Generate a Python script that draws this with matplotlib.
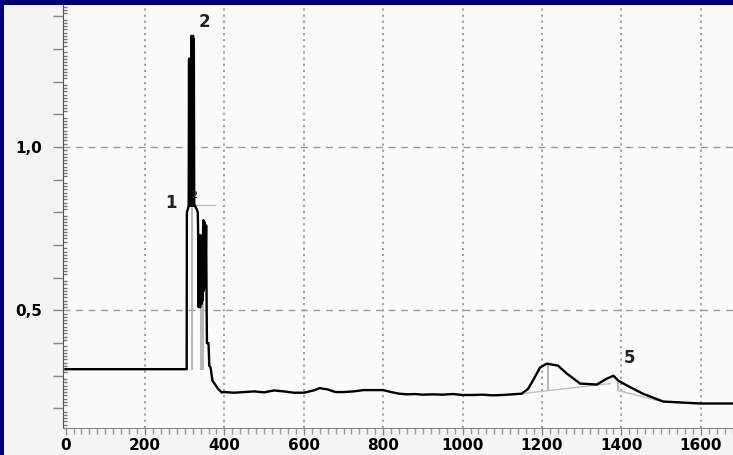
import matplotlib
matplotlib.use('Agg')
import matplotlib.pyplot as plt
from matplotlib.ticker import MultipleLocator, FixedLocator, FuncFormatter
from matplotlib.patches import Rectangle

# trace (x, signal)
trace_x = [0, 100, 200, 300, 305, 305.5, 308, 310,
           311, 312, 313, 314, 315, 316,
           317, 318, 319, 320, 321, 322, 323, 324,
           326, 330, 333, 334,
           335, 336, 337, 338, 339, 340, 341, 342, 343, 344, 345, 346,
           347, 348, 350, 352, 354, 355,
           356, 360, 362, 365, 370, 384, 393,
           400, 425, 450, 475, 500, 525, 550, 575, 600, 625, 640, 660, 680,
           700, 725, 750, 775, 800, 820, 840, 860, 880, 900, 925, 950, 975,
           1000, 1025, 1050, 1075, 1100, 1125, 1149, 1165, 1177, 1195, 1212,
           1240, 1262, 1296, 1338, 1363, 1380, 1392, 1414, 1454, 1505, 1598, 1690]
trace_y = [0.32, 0.32, 0.32, 0.32, 0.32, 0.80, 0.81, 0.82,
           1.27, 0.82, 1.27, 0.82, 1.27, 0.85,
           1.34, 0.82, 1.34, 0.82, 1.34, 0.82, 1.33, 0.82,
           0.82, 0.81, 0.80, 0.73,
           0.51, 0.73, 0.51, 0.72, 0.51, 0.73, 0.52, 0.72, 0.52, 0.72, 0.53, 0.73,
           0.776, 0.56, 0.77, 0.57, 0.76, 0.56,
           0.40, 0.40, 0.33, 0.326, 0.285, 0.26, 0.249,
           0.250, 0.248, 0.250, 0.252, 0.249, 0.255, 0.252, 0.248, 0.248, 0.255, 0.262, 0.258, 0.250,
           0.250, 0.252, 0.256, 0.256, 0.256, 0.250, 0.245, 0.243, 0.244, 0.242, 0.243, 0.242, 0.244,
           0.241, 0.241, 0.242, 0.240, 0.241, 0.243, 0.245, 0.26, 0.285, 0.325, 0.337,
           0.331, 0.307, 0.276, 0.273, 0.291, 0.300, 0.285, 0.270, 0.245, 0.221, 0.215, 0.215]

# peak integration marks (gray)
drop_x = [318, 340, 345, 1215, 1391]
drop_lo = [0.32, 0.32, 0.32, 0.255, 0.255]
drop_hi = [0.82, 0.55, 0.55, 0.331, 0.28]
base_x = [[326, 376], [1148, 1371], [1391, 1497]]
base_y = [[0.822, 0.822], [0.245, 0.276], [0.255, 0.222]]

# peak labels
peak_names = ['2', '1', '2', '5']
peak_x = [350, 266, 323, 1421]
peak_y = [1.382, 0.828, 0.853, 0.353]
peak_size = [12, 12, 6, 12]

fig = plt.figure(figsize=(7.33, 4.55), dpi=100, facecolor='#000070')
panel = Rectangle((4 / 733, 0), 1, 1 - 5 / 455, transform=fig.transFigure,
                  facecolor='#f4f4f4', edgecolor='none', zorder=-10)
fig.add_artist(panel)
ax = fig.add_axes([63 / 733, 1 - 428 / 455, 1 - 63 / 733, (428 - 5) / 455])
ax.set_zorder(1)
ax.set_facecolor('#fbfbfb')

ax.set_xlim(-6.5, 1681)
ax.set_ylim(0.140, 1.4346)

for gx in range(200, 1700, 200):
    ax.axvline(gx, color='#9a9a9a', lw=1.3, ls=(0, (1.2, 2.2)), zorder=1)
for gy in [0.5, 1.0]:
    ax.axhline(gy, color='#9a9a9a', lw=1.0, ls=(0, (5, 4)), zorder=1)

for x, lo, hi in zip(drop_x, drop_lo, drop_hi):
    ax.plot([x, x], [lo, hi], color='#b8b8b8', lw=1.5, zorder=2)
for bx, by in zip(base_x, base_y):
    ax.plot(bx, by, color='#c0c0c0', lw=1.0, zorder=2)

ax.plot(trace_x, trace_y, color='black', lw=1.7, zorder=3)

for name, x, y, s in zip(peak_names, peak_x, peak_y, peak_size):
    ax.text(x, y, name, fontsize=s, fontweight='bold', color='#222222',
            ha='center', va='center', zorder=4)

for s in ['top', 'right']:
    ax.spines[s].set_visible(False)
ax.spines['left'].set_color('#555555')
ax.spines['bottom'].set_color('#888888')

ax.xaxis.set_major_locator(MultipleLocator(200))
ax.xaxis.set_minor_locator(MultipleLocator(20))
ax.yaxis.set_major_locator(FixedLocator([0.2, 0.3, 0.4, 0.5, 0.6, 0.7, 0.8, 0.9, 1.0, 1.1, 1.2, 1.3, 1.4]))
ax.yaxis.set_minor_locator(MultipleLocator(0.01))
ax.yaxis.set_major_formatter(FuncFormatter(
    lambda v, p: ('%.1f' % v).replace('.', ',') if abs(v - 0.5) < 1e-6 or abs(v - 1.0) < 1e-6 else ''))

ax.tick_params(axis='x', which='major', length=5, width=1, color='#888888', pad=2,
               labelsize=11, labelcolor='black')
ax.tick_params(axis='x', which='minor', length=4, width=1, color='#999999')
ax.tick_params(axis='y', which='major', length=7, width=1, color='#888888', pad=8,
               labelsize=11, labelcolor='black')
ax.tick_params(axis='y', which='minor', length=3, width=1, color='#777777', direction='in')
for lab in ax.get_xticklabels() + ax.get_yticklabels():
    lab.set_fontweight('bold')

fig.savefig('out.png', dpi=100, facecolor=fig.get_facecolor())
